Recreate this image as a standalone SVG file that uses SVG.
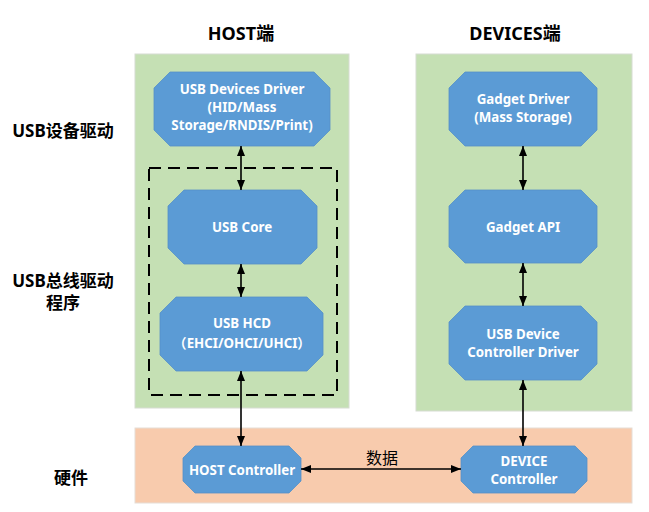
<svg xmlns="http://www.w3.org/2000/svg" width="649" height="512" viewBox="0 0 649 512">
<defs>
<marker id="ah" viewBox="0 0 10 8" refX="10" refY="4" markerWidth="10" markerHeight="8" markerUnits="userSpaceOnUse" orient="auto-start-reverse">
<path d="M0,0 L10,4 L0,8 z" fill="#000"/>
</marker>
</defs>
<style>
.panel-g{fill:#C5E0B4;stroke:#d6dcd2;stroke-width:1}
.panel-o{fill:#F8CBAD;stroke:#e6ddd6;stroke-width:1}
.node{fill:#5B9BD5;stroke:#5591c8;stroke-width:0.8}
.nt{font-family:"Noto Sans","Noto Sans CJK SC",sans-serif;font-weight:bold;font-size:13.3px;fill:#fff;text-anchor:middle}
.hd{font-family:"Noto Sans","Noto Sans CJK SC",sans-serif;font-weight:bold;font-size:18px;fill:#000;text-anchor:middle}
.lb{font-family:"Noto Sans","Noto Sans CJK SC",sans-serif;font-weight:bold;font-size:17px;fill:#000;text-anchor:middle}
.cn{stroke:#000;stroke-width:1.6;fill:none;marker-start:url(#ah);marker-end:url(#ah)}
.dash{fill:none;stroke:#000;stroke-width:2;stroke-dasharray:12,7}
.dl{font-family:"Noto Sans CJK SC","Noto Sans",sans-serif;font-size:16px;fill:#000;text-anchor:middle}
</style>
<rect width="649" height="512" fill="#fff"/>
<g id="panels">
<rect class="panel-g" x="135" y="54" width="214" height="354"/>
<rect class="panel-g" x="416" y="54" width="216" height="357"/>
<rect class="panel-o" x="135" y="428" width="497" height="75"/>
</g>
<g id="titles">
<text class="hd" x="241" y="40">HOST端</text>
<text class="hd" x="515" y="40">DEVICES端</text>
<text class="lb" x="63" y="137">USB设备驱动</text>
<text class="lb" x="63" y="287">USB总线驱动</text>
<text class="lb" x="63" y="309">程序</text>
<text class="lb" x="71" y="484">硬件</text>
</g>
<rect id="bus-driver-group" class="dash" x="149" y="168" width="188" height="227"/>
<g id="usb-devices-driver">
<polygon class="node" points="170,72 314,72 330,88 330,130 314,146 170,146 154,130 154,88"/>
<text class="nt" x="242" y="94">USB Devices Driver</text>
<text class="nt" x="242" y="112">(HID/Mass</text>
<text class="nt" x="242" y="130">Storage/RNDIS/Print)</text>
</g>
<g id="usb-core">
<polygon class="node" points="184,190 301,190 317,206 317,248 301,264 184,264 168,248 168,206"/>
<text class="nt" x="242" y="232">USB Core</text>
</g>
<g id="usb-hcd">
<polygon class="node" points="176,297 307,297 323,313 323,355 307,371 176,371 160,355 160,313"/>
<text class="nt" x="242" y="328">USB HCD</text>
<text class="nt" x="242" y="348">（EHCI/OHCI/UHCI）</text>
</g>
<g id="host-controller">
<polygon class="node" points="195,446 289,446 301,458 301,481 289,493 195,493 183,481 183,458"/>
<text class="nt" x="242" y="475">HOST Controller</text>
</g>
<g id="gadget-driver">
<polygon class="node" points="465,72 581,72 597,88 597,130 581,146 465,146 449,130 449,88"/>
<text class="nt" x="523" y="104">Gadget Driver</text>
<text class="nt" x="523" y="122">(Mass Storage)</text>
</g>
<g id="gadget-api">
<polygon class="node" points="465,190 581,190 597,206 597,247 581,263 465,263 449,247 449,206"/>
<text class="nt" x="523" y="232">Gadget API</text>
</g>
<g id="udc-driver">
<polygon class="node" points="465,306 581,306 597,322 597,364 581,380 465,380 449,364 449,322"/>
<text class="nt" x="523" y="339">USB Device</text>
<text class="nt" x="523" y="357">Controller Driver</text>
</g>
<g id="device-controller">
<polygon class="node" points="473,446 575,446 587,458 587,481 575,493 473,493 461,481 461,458"/>
<text class="nt" x="524" y="466">DEVICE</text>
<text class="nt" x="524" y="484">Controller</text>
</g>
<g id="connectors">
<line class="cn" x1="241" y1="146" x2="241" y2="190"/>
<line class="cn" x1="241" y1="264" x2="241" y2="297"/>
<line class="cn" x1="241" y1="371" x2="241" y2="446"/>
<line class="cn" x1="523" y1="146" x2="523" y2="190"/>
<line class="cn" x1="523" y1="263" x2="523" y2="306"/>
<line class="cn" x1="523" y1="380" x2="523" y2="446"/>
<line class="cn" x1="301" y1="469" x2="461" y2="469"/>
<text class="dl" x="382" y="464">数据</text>
</g>
</svg>
